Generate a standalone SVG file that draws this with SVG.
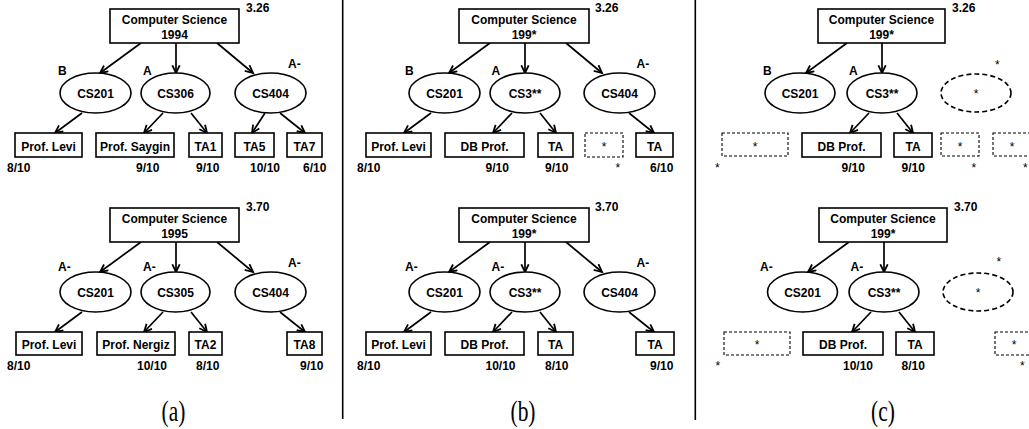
<svg xmlns="http://www.w3.org/2000/svg" width="1029" height="429" viewBox="0 0 1029 429">
  <style>
    .box { fill: #fff; stroke: #000; stroke-width: 1.6; }
    .dash { fill: #fff; stroke: #000; stroke-width: 1.1; stroke-dasharray: 3 2; }
    .dash-ell { fill: #fff; stroke: #000; stroke-width: 1.6; stroke-dasharray: 5 3; }
    .edge { stroke: #000; stroke-width: 1.7; fill: none; marker-end: url(#arrow); }
    .divider { stroke: #000; stroke-width: 1.6; }
    text { font-family: "Liberation Sans", Arial, sans-serif; font-size: 12px; font-weight: bold; fill: #000; }
    .c { text-anchor: middle; }
    .star { font-weight: normal; }
    .cap { font-family: "Liberation Serif", "Times New Roman", serif; font-size: 29px; font-weight: normal; text-anchor: middle; }
  </style>
  <defs>
    <marker id="arrow" markerUnits="userSpaceOnUse" markerWidth="11" markerHeight="11" refX="8.5" refY="4.5" orient="auto">
      <path d="M0.8,0.8 L8.5,4.5 L0.8,8.2" fill="none" stroke="#000" stroke-width="1.8"/>
    </marker>
  </defs>

  <rect width="1029" height="429" fill="#fff"/>

  <!-- panel dividers -->
  <line class="divider" x1="342.7" y1="0" x2="342.7" y2="419"/>
  <line class="divider" x1="695.3" y1="0" x2="695.3" y2="420"/>

  <!-- connectors, one sub-group per tree -->
  <g id="connectors">
    <g transform="translate(0,0)">
      <line class="edge" x1="141" y1="43" x2="100" y2="73"/>
      <line class="edge" x1="176" y1="43" x2="176" y2="73"/>
      <line class="edge" x1="217" y1="43" x2="253" y2="73"/>
      <line class="edge" x1="82" y1="113" x2="55" y2="133"/>
      <line class="edge" x1="163" y1="113" x2="144" y2="133"/>
      <line class="edge" x1="191" y1="113" x2="207" y2="133"/>
      <line class="edge" x1="265" y1="113" x2="252" y2="133"/>
      <line class="edge" x1="280" y1="113" x2="305" y2="133"/>
    </g>
    <g transform="translate(0,199)">
      <line class="edge" x1="141" y1="43" x2="100" y2="73"/>
      <line class="edge" x1="176" y1="43" x2="176" y2="73"/>
      <line class="edge" x1="217" y1="43" x2="253" y2="73"/>
      <line class="edge" x1="82" y1="113" x2="55" y2="133"/>
      <line class="edge" x1="163" y1="113" x2="144" y2="133"/>
      <line class="edge" x1="191" y1="113" x2="207" y2="133"/>
      <line class="edge" x1="280" y1="113" x2="305" y2="133"/>
    </g>
    <g transform="translate(349,0)">
      <line class="edge" x1="141" y1="43" x2="100" y2="73"/>
      <line class="edge" x1="176" y1="43" x2="176" y2="73"/>
      <line class="edge" x1="217" y1="43" x2="253" y2="73"/>
      <line class="edge" x1="82" y1="113" x2="55" y2="133"/>
      <line class="edge" x1="163" y1="113" x2="144" y2="133"/>
      <line class="edge" x1="191" y1="113" x2="207" y2="133"/>
      <line class="edge" x1="280" y1="113" x2="305" y2="133"/>
    </g>
    <g transform="translate(349,199)">
      <line class="edge" x1="141" y1="43" x2="100" y2="73"/>
      <line class="edge" x1="176" y1="43" x2="176" y2="73"/>
      <line class="edge" x1="217" y1="43" x2="253" y2="73"/>
      <line class="edge" x1="82" y1="113" x2="55" y2="133"/>
      <line class="edge" x1="163" y1="113" x2="144" y2="133"/>
      <line class="edge" x1="191" y1="113" x2="207" y2="133"/>
      <line class="edge" x1="280" y1="113" x2="305" y2="133"/>
    </g>
    <g transform="translate(706,0)">
      <line class="edge" x1="141" y1="43" x2="100" y2="73"/>
      <line class="edge" x1="176" y1="43" x2="176" y2="73"/>
      <line class="edge" x1="163" y1="113" x2="144" y2="133"/>
      <line class="edge" x1="191" y1="113" x2="207" y2="133"/>
    </g>
    <g transform="translate(708,199)">
      <line class="edge" x1="141" y1="43" x2="100" y2="73"/>
      <line class="edge" x1="176" y1="43" x2="176" y2="73"/>
      <line class="edge" x1="163" y1="113" x2="144" y2="133"/>
      <line class="edge" x1="191" y1="113" x2="207" y2="133"/>
    </g>
  </g>

  <!-- (a) 1994 -->
  <g id="tree-a-1994" transform="translate(0,0)">
    <g id="a1-root">
      <rect class="box" x="110" y="9" width="129" height="34"/>
      <text class="c" x="174.5" y="24">Computer Science</text>
      <text class="c" x="174.5" y="39">1994</text>
      <text x="246" y="12">3.26</text>
    </g>
    <g id="a1-cs201">
      <ellipse class="box" cx="95.5" cy="93" rx="35.5" ry="20"/>
      <text class="c" x="95.5" y="97.5">CS201</text>
      <text x="58" y="75">B</text>
    </g>
    <g id="a1-cs306">
      <ellipse class="box" cx="175.5" cy="93" rx="34.5" ry="20"/>
      <text class="c" x="175.5" y="97.5">CS306</text>
      <text x="143" y="75">A</text>
    </g>
    <g id="a1-cs404">
      <ellipse class="box" cx="270.5" cy="93" rx="35.5" ry="20"/>
      <text class="c" x="270.5" y="97.5">CS404</text>
      <text x="288" y="68">A-</text>
    </g>
    <g id="a1-levi">
      <rect class="box" x="15" y="133" width="67" height="24"/>
      <text class="c" x="48.5" y="150.5">Prof. Levi</text>
      <text x="7" y="172">8/10</text>
    </g>
    <g id="a1-saygin">
      <rect class="box" x="96" y="133" width="78" height="24"/>
      <text class="c" x="135" y="150.5">Prof. Saygin</text>
      <text x="136" y="172">9/10</text>
    </g>
    <g id="a1-ta1">
      <rect class="box" x="189" y="133" width="33" height="24"/>
      <text class="c" x="205.5" y="150.5">TA1</text>
      <text x="196" y="172">9/10</text>
    </g>
    <g id="a1-ta5">
      <rect class="box" x="235" y="133" width="39" height="24"/>
      <text class="c" x="254.5" y="150.5">TA5</text>
      <text x="250" y="172">10/10</text>
    </g>
    <g id="a1-ta7">
      <rect class="box" x="287" y="133" width="35" height="24"/>
      <text class="c" x="304.5" y="150.5">TA7</text>
      <text x="303" y="172">6/10</text>
    </g>
  </g>

  <!-- (a) 1995 -->
  <g id="tree-a-1995" transform="translate(0,199)">
    <g id="a2-root">
      <rect class="box" x="110" y="9" width="129" height="34"/>
      <text class="c" x="174.5" y="24">Computer Science</text>
      <text class="c" x="174.5" y="39">1995</text>
      <text x="246" y="12">3.70</text>
    </g>
    <g id="a2-cs201">
      <ellipse class="box" cx="95.5" cy="93" rx="35.5" ry="20"/>
      <text class="c" x="95.5" y="97.5">CS201</text>
      <text x="58" y="72">A-</text>
    </g>
    <g id="a2-cs305">
      <ellipse class="box" cx="175.5" cy="93" rx="34.5" ry="20"/>
      <text class="c" x="175.5" y="97.5">CS305</text>
      <text x="143" y="72">A-</text>
    </g>
    <g id="a2-cs404">
      <ellipse class="box" cx="270.5" cy="93" rx="35.5" ry="20"/>
      <text class="c" x="270.5" y="97.5">CS404</text>
      <text x="288" y="68">A-</text>
    </g>
    <g id="a2-levi">
      <rect class="box" x="16" y="133" width="66" height="23"/>
      <text class="c" x="49" y="150">Prof. Levi</text>
      <text x="7" y="171">8/10</text>
    </g>
    <g id="a2-nergiz">
      <rect class="box" x="97" y="133" width="78" height="23"/>
      <text class="c" x="136" y="150">Prof. Nergiz</text>
      <text x="137" y="171">10/10</text>
    </g>
    <g id="a2-ta2">
      <rect class="box" x="189" y="133" width="33" height="23"/>
      <text class="c" x="205.5" y="150">TA2</text>
      <text x="196" y="171">8/10</text>
    </g>
    <g id="a2-ta8">
      <rect class="box" x="287" y="133" width="35" height="23"/>
      <text class="c" x="304.5" y="150">TA8</text>
      <text x="300" y="171">9/10</text>
    </g>
  </g>

  <!-- (b) first year -->
  <g id="tree-b-1" transform="translate(349,0)">
    <g id="b1-root">
      <rect class="box" x="110" y="9" width="130" height="34"/>
      <text class="c" x="175" y="24">Computer Science</text>
      <text class="c" x="175" y="39">199*</text>
      <text x="246" y="12">3.26</text>
    </g>
    <g id="b1-cs201">
      <ellipse class="box" cx="95.5" cy="93" rx="35.5" ry="20"/>
      <text class="c" x="95.5" y="97.5">CS201</text>
      <text x="56" y="75">B</text>
    </g>
    <g id="b1-cs3">
      <ellipse class="box" cx="176" cy="93" rx="35" ry="20"/>
      <text class="c" x="176" y="97.5">CS3**</text>
      <text x="142.5" y="75">A</text>
    </g>
    <g id="b1-cs404">
      <ellipse class="box" cx="270.5" cy="93" rx="35.5" ry="20"/>
      <text class="c" x="270.5" y="97.5">CS404</text>
      <text x="287.5" y="68">A-</text>
    </g>
    <g id="b1-levi">
      <rect class="box" x="17" y="133" width="65" height="24"/>
      <text class="c" x="49.5" y="150.5">Prof. Levi</text>
      <text x="8" y="172">8/10</text>
    </g>
    <g id="b1-dbprof">
      <rect class="box" x="96" y="133" width="79" height="24"/>
      <text class="c" x="135.5" y="150.5">DB Prof.</text>
      <text x="136.5" y="172">9/10</text>
    </g>
    <g id="b1-ta">
      <rect class="box" x="189" y="133" width="35" height="24"/>
      <text class="c" x="206.5" y="150.5">TA</text>
      <text x="196" y="172">9/10</text>
    </g>
    <g id="b1-unknown">
      <rect class="dash" x="236" y="133" width="38" height="24"/>
      <text class="c star" x="255" y="150.5">*</text>
      <text class="star" x="266.5" y="172">*</text>
    </g>
    <g id="b1-ta-right">
      <rect class="box" x="287" y="133" width="37" height="24"/>
      <text class="c" x="305.5" y="150.5">TA</text>
      <text x="301" y="172">6/10</text>
    </g>
  </g>

  <!-- (b) second year -->
  <g id="tree-b-2" transform="translate(349,199)">
    <g id="b2-root">
      <rect class="box" x="110" y="9" width="130" height="34"/>
      <text class="c" x="175" y="24">Computer Science</text>
      <text class="c" x="175" y="39">199*</text>
      <text x="246" y="12">3.70</text>
    </g>
    <g id="b2-cs201">
      <ellipse class="box" cx="95.5" cy="93" rx="35.5" ry="20"/>
      <text class="c" x="95.5" y="97.5">CS201</text>
      <text x="56" y="72">A-</text>
    </g>
    <g id="b2-cs3">
      <ellipse class="box" cx="176" cy="93" rx="35" ry="20"/>
      <text class="c" x="176" y="97.5">CS3**</text>
      <text x="142.5" y="72">A-</text>
    </g>
    <g id="b2-cs404">
      <ellipse class="box" cx="270.5" cy="93" rx="35.5" ry="20"/>
      <text class="c" x="270.5" y="97.5">CS404</text>
      <text x="287.5" y="68">A-</text>
    </g>
    <g id="b2-levi">
      <rect class="box" x="17" y="133" width="65" height="23"/>
      <text class="c" x="49.5" y="150">Prof. Levi</text>
      <text x="8" y="171">8/10</text>
    </g>
    <g id="b2-dbprof">
      <rect class="box" x="96" y="133" width="79" height="23"/>
      <text class="c" x="135.5" y="150">DB Prof.</text>
      <text x="136.5" y="171">10/10</text>
    </g>
    <g id="b2-ta">
      <rect class="box" x="189" y="133" width="35" height="23"/>
      <text class="c" x="206.5" y="150">TA</text>
      <text x="196" y="171">8/10</text>
    </g>
    <g id="b2-ta-right">
      <rect class="box" x="287" y="133" width="38" height="23"/>
      <text class="c" x="306" y="150">TA</text>
      <text x="301" y="171">9/10</text>
    </g>
  </g>

  <!-- (c) first year -->
  <g id="tree-c-1" transform="translate(706,0)">
    <g id="c1-root">
      <rect class="box" x="112" y="9" width="127" height="34"/>
      <text class="c" x="175.5" y="24">Computer Science</text>
      <text class="c" x="175.5" y="39">199*</text>
      <text x="246" y="12">3.26</text>
    </g>
    <g id="c1-cs201">
      <ellipse class="box" cx="94" cy="93" rx="35" ry="20"/>
      <text class="c" x="94" y="97.5">CS201</text>
      <text x="57" y="75">B</text>
    </g>
    <g id="c1-cs3">
      <ellipse class="box" cx="176" cy="93" rx="35" ry="20"/>
      <text class="c" x="176" y="97.5">CS3**</text>
      <text x="143" y="75">A</text>
    </g>
    <g id="c1-unknown-course">
      <ellipse class="dash-ell" cx="270" cy="93" rx="35" ry="19"/>
      <text class="c star" x="270" y="98">*</text>
      <text class="star" x="289" y="69">*</text>
    </g>
    <g id="c1-unknown-1">
      <rect class="dash" x="16" y="133" width="66" height="23"/>
      <text class="c star" x="49" y="150.5">*</text>
      <text class="star" x="9" y="172">*</text>
    </g>
    <g id="c1-dbprof">
      <rect class="box" x="96" y="133" width="79" height="24"/>
      <text class="c" x="135.5" y="150.5">DB Prof.</text>
      <text x="135.5" y="172">9/10</text>
    </g>
    <g id="c1-ta">
      <rect class="box" x="188" y="133" width="38" height="24"/>
      <text class="c" x="207" y="150.5">TA</text>
      <text x="195.5" y="172">9/10</text>
    </g>
    <g id="c1-unknown-2">
      <rect class="dash" x="235" y="133" width="38" height="23"/>
      <text class="c star" x="254" y="150.5">*</text>
      <text class="star" x="265.5" y="172">*</text>
    </g>
    <g id="c1-unknown-3">
      <rect class="dash" x="287" y="133" width="38" height="23"/>
      <text class="c star" x="306" y="150.5">*</text>
      <text class="star" x="317" y="172">*</text>
    </g>
  </g>

  <!-- (c) second year -->
  <g id="tree-c-2" transform="translate(708,199)">
    <g id="c2-root">
      <rect class="box" x="111" y="9" width="128" height="34"/>
      <text class="c" x="175" y="24">Computer Science</text>
      <text class="c" x="175" y="39">199*</text>
      <text x="246" y="12">3.70</text>
    </g>
    <g id="c2-cs201">
      <ellipse class="box" cx="94.5" cy="93" rx="35" ry="20"/>
      <text class="c" x="94.5" y="97.5">CS201</text>
      <text x="52" y="72">A-</text>
    </g>
    <g id="c2-cs3">
      <ellipse class="box" cx="176" cy="93" rx="35" ry="20"/>
      <text class="c" x="176" y="97.5">CS3**</text>
      <text x="142.5" y="72">A-</text>
    </g>
    <g id="c2-unknown-course">
      <ellipse class="dash-ell" cx="270" cy="93" rx="35" ry="19"/>
      <text class="c star" x="270" y="98">*</text>
      <text class="star" x="288.5" y="67">*</text>
    </g>
    <g id="c2-unknown-1">
      <rect class="dash" x="16" y="133" width="66" height="23"/>
      <text class="c star" x="49" y="150">*</text>
      <text class="star" x="7.5" y="171">*</text>
    </g>
    <g id="c2-dbprof">
      <rect class="box" x="95" y="133" width="80" height="23"/>
      <text class="c" x="135" y="150">DB Prof.</text>
      <text x="135" y="171">10/10</text>
    </g>
    <g id="c2-ta">
      <rect class="box" x="188" y="133" width="38" height="23"/>
      <text class="c" x="207" y="150">TA</text>
      <text x="193.5" y="171">8/10</text>
    </g>
    <g id="c2-unknown-2">
      <rect class="dash" x="287" y="133" width="38" height="23"/>
      <text class="c star" x="306" y="150">*</text>
      <text class="star" x="312" y="171">*</text>
    </g>
  </g>

  <!-- panel captions -->
  <g id="captions">
    <text class="cap" transform="translate(173.5,421) scale(0.74,1)">(a)</text>
    <text class="cap" transform="translate(523,421) scale(0.74,1)">(b)</text>
    <text class="cap" transform="translate(883,421) scale(0.74,1)">(c)</text>
  </g>
</svg>
